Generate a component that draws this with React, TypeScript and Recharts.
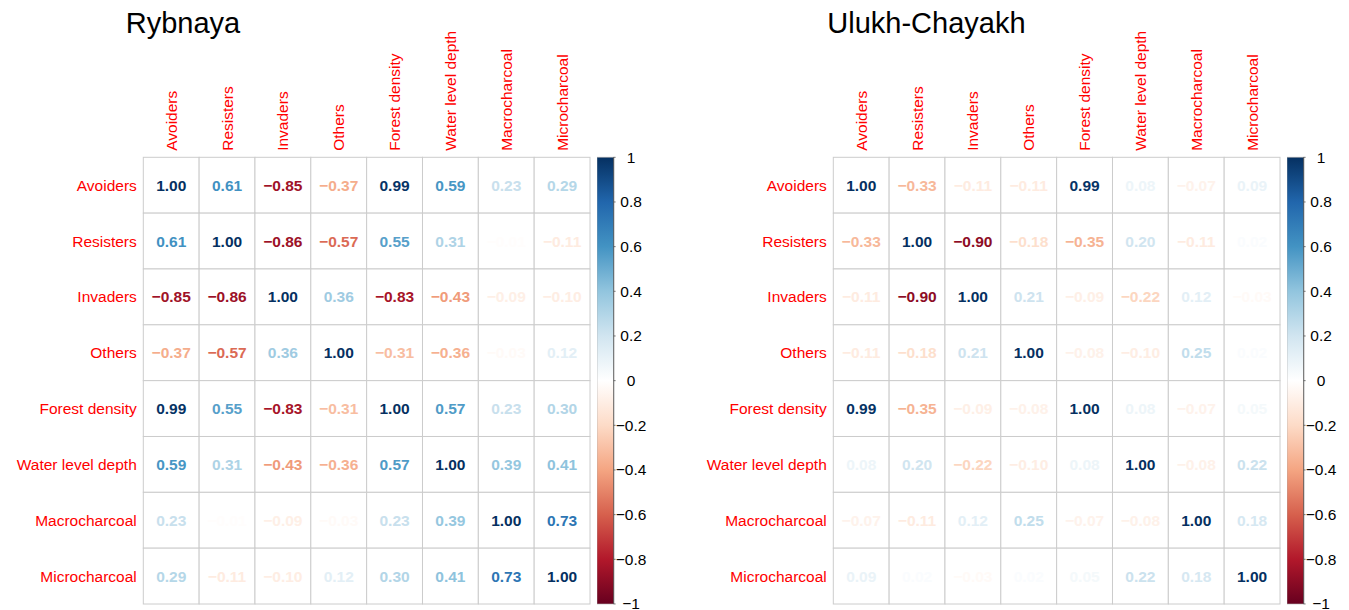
import React from 'react';
import { ScatterChart, Scatter, XAxis, YAxis, BarChart, Bar } from 'recharts';

// variable names, same order on both axes
const variables = [
  'Avoiders',
  'Resisters',
  'Invaders',
  'Others',
  'Forest density',
  'Water level depth',
  'Macrocharcoal',
  'Microcharcoal',
];

// correlation matrices (row by row)
const rybnaya = [
  [1.0, 0.61, -0.85, -0.37, 0.99, 0.59, 0.23, 0.29],
  [0.61, 1.0, -0.86, -0.57, 0.55, 0.31, -0.01, -0.11],
  [-0.85, -0.86, 1.0, 0.36, -0.83, -0.43, -0.09, -0.1],
  [-0.37, -0.57, 0.36, 1.0, -0.31, -0.36, -0.03, 0.12],
  [0.99, 0.55, -0.83, -0.31, 1.0, 0.57, 0.23, 0.3],
  [0.59, 0.31, -0.43, -0.36, 0.57, 1.0, 0.39, 0.41],
  [0.23, -0.01, -0.09, -0.03, 0.23, 0.39, 1.0, 0.73],
  [0.29, -0.11, -0.1, 0.12, 0.3, 0.41, 0.73, 1.0],
];

const ulukhChayakh = [
  [1.0, -0.33, -0.11, -0.11, 0.99, 0.08, -0.07, 0.09],
  [-0.33, 1.0, -0.9, -0.18, -0.35, 0.2, -0.11, 0.02],
  [-0.11, -0.9, 1.0, 0.21, -0.09, -0.22, 0.12, -0.03],
  [-0.11, -0.18, 0.21, 1.0, -0.08, -0.1, 0.25, 0.02],
  [0.99, -0.35, -0.09, -0.08, 1.0, 0.08, -0.07, 0.05],
  [0.08, 0.2, -0.22, -0.1, 0.08, 1.0, -0.08, 0.22],
  [-0.07, -0.11, 0.12, 0.25, -0.07, -0.08, 1.0, 0.18],
  [0.09, 0.02, -0.03, 0.02, 0.05, 0.22, 0.18, 1.0],
];

// colour legend ticks
const scaleTicks = [-1, -0.8, -0.6, -0.4, -0.2, 0, 0.2, 0.4, 0.6, 0.8, 1];

// RdBu palette from -1 to 1
const palette = [
  '#67001F', '#B2182B', '#D6604D', '#F4A582', '#FDDBC7', '#FFFFFF',
  '#D1E5F0', '#92C5DE', '#4393C3', '#2166AC', '#053061',
];

const FONT = '"Liberation Sans", Arial, Helvetica, sans-serif';
const FS = 15.5;
const N = variables.length;
const CHART_W = 600;
const CHART_H = 610;
const M_LEFT = 6.3;
const M_RIGHT = 10;
const M_TOP = 7.3;
const M_BOTTOM = 6;
const ROW_AXIS_W = 137;
const COL_AXIS_H = 150;
const CELL = (CHART_W - M_LEFT - M_RIGHT - ROW_AXIS_W) / N;

const hexToRgb = (h: string) => [1, 3, 5].map((i) => parseInt(h.slice(i, i + 2), 16));

const corrColor = (v: number) => {
  const t = ((v + 1) / 2) * (palette.length - 1);
  const i = Math.min(Math.floor(t), palette.length - 2);
  const f = t - i;
  const a = hexToRgb(palette[i]);
  const b = hexToRgb(palette[i + 1]);
  const c = a.map((x, k) => Math.round(x + (b[k] - x) * f));
  return `rgb(${c[0]},${c[1]},${c[2]})`;
};

const fmtNum = (v: number, digits: number) => {
  const s = Math.abs(v).toFixed(digits);
  return v < 0 ? '\u2212' + s : s;
};

const fmtTick = (v: number) => {
  const r = Math.round(v * 10) / 10;
  if (r === 0) return '0';
  const s = String(Math.abs(r));
  return r < 0 ? '\u2212' + s : s;
};

const centers = variables.map((_, i) => i + 0.5);

const CellShape = (props: any) => {
  const { cx, cy, payload } = props;
  const v = payload.value as number;
  return (
    <g>
      <rect
        x={cx - CELL / 2}
        y={cy - CELL / 2}
        width={CELL}
        height={CELL}
        fill="#FFFFFF"
        stroke="#CCCCCC"
        strokeWidth={1}
      />
      <text
        x={cx}
        y={cy}
        textAnchor="middle"
        dominantBaseline="central"
        fill={corrColor(v)}
        fontFamily={FONT}
        fontSize={FS}
        fontWeight="bold"
      >
        {fmtNum(v, 2)}
      </text>
    </g>
  );
};

const ColTick = (props: any) => {
  const { x, y, payload } = props;
  return (
    <text
      x={x}
      y={y}
      transform={`rotate(-90 ${x} ${y})`}
      textAnchor="start"
      dominantBaseline="central"
      fill="#FF0000"
      fontFamily={FONT}
      fontSize={FS}
    >
      {variables[Math.floor(payload.value)]}
    </text>
  );
};

const RowTick = (props: any) => {
  const { x, y, payload } = props;
  return (
    <text
      x={x}
      y={y}
      textAnchor="end"
      dominantBaseline="central"
      fill="#FF0000"
      fontFamily={FONT}
      fontSize={FS}
    >
      {variables[Math.floor(payload.value)]}
    </text>
  );
};

const ScaleTick = (props: any) => {
  const { x, y, payload } = props;
  return (
    <text
      x={x + 13.5}
      y={y}
      textAnchor="middle"
      dominantBaseline="central"
      fill="#000000"
      fontFamily={FONT}
      fontSize={FS}
    >
      {fmtTick(payload.value)}
    </text>
  );
};

interface PanelProps {
  id: string;
  title: string;
  matrix: number[][];
  left: number;
  titleLeft: number;
}

const CorrPanel: React.FC<PanelProps> = ({ id, title, matrix, left, titleLeft }) => {
  const cells = matrix.flatMap((row, i) =>
    row.map((value, j) => ({ x: j + 0.5, y: i + 0.5, value }))
  );
  const barLeft = left + CHART_W - M_RIGHT + 6.7;

  return (
    <>
      <div
        style={{
          position: 'absolute',
          left: titleLeft,
          top: 8.5,
          fontFamily: FONT,
          fontSize: 29,
          lineHeight: 1,
          color: '#000',
          whiteSpace: 'nowrap',
        }}
      >
        {title}
      </div>
      <div style={{ position: 'absolute', left, top: 0 }}>
        <ScatterChart
          width={CHART_W}
          height={CHART_H}
          margin={{ top: M_TOP, right: M_RIGHT, bottom: M_BOTTOM, left: M_LEFT }}
        >
          <XAxis
            type="number"
            dataKey="x"
            orientation="top"
            domain={[0, N]}
            ticks={centers}
            interval={0}
            height={COL_AXIS_H}
            axisLine={false}
            tickLine={false}
            tickSize={0}
            tickMargin={6.5}
            tick={<ColTick />}
          />
          <YAxis
            type="number"
            dataKey="y"
            domain={[0, N]}
            reversed
            ticks={centers}
            interval={0}
            width={ROW_AXIS_W}
            axisLine={false}
            tickLine={false}
            tickSize={0}
            tickMargin={6.5}
            tick={<RowTick />}
          />
          <Scatter data={cells} shape={<CellShape />} isAnimationActive={false} />
        </ScatterChart>
      </div>
      <div style={{ position: 'absolute', left: barLeft, top: 0 }}>
        <BarChart
          width={59.6}
          height={CHART_H}
          data={[{ name: 'scale', range: [-1, 1] }]}
          margin={{ top: M_TOP + COL_AXIS_H, right: 0, bottom: M_BOTTOM, left: 0 }}
          barCategoryGap={0}
          barGap={0}
        >
          <defs>
            <linearGradient id={`grad-${id}`} x1="0" y1="0" x2="0" y2="1">
              {palette
                .slice()
                .reverse()
                .map((c, i) => (
                  <stop key={i} offset={i / (palette.length - 1)} stopColor={c} />
                ))}
            </linearGradient>
          </defs>
          <XAxis dataKey="name" hide />
          <YAxis
            type="number"
            orientation="right"
            domain={[-1, 1]}
            ticks={scaleTicks}
            interval={0}
            width={43}
            axisLine={{ stroke: '#555555', strokeWidth: 0.8 }}
            tickLine={{ stroke: '#555555', strokeWidth: 0.8 }}
            tickSize={2}
            tickMargin={2}
            tick={<ScaleTick />}
          />
          <Bar
            dataKey="range"
            fill={`url(#grad-${id})`}
            stroke="#AAAAAA"
            strokeWidth={0.6}
            isAnimationActive={false}
          />
        </BarChart>
      </div>
    </>
  );
};

const App = () => (
  <div
    style={{
      position: 'absolute',
      left: 0,
      top: 0,
      width: 1349,
      height: 610,
      background: '#FFFFFF',
      overflow: 'hidden',
    }}
  >
    <CorrPanel id="ryb" title="Rybnaya" matrix={rybnaya} left={0} titleLeft={125.7} />
    <CorrPanel id="ulu" title="Ulukh-Chayakh" matrix={ulukhChayakh} left={690} titleLeft={827.3} />
  </div>
);

export default App;
